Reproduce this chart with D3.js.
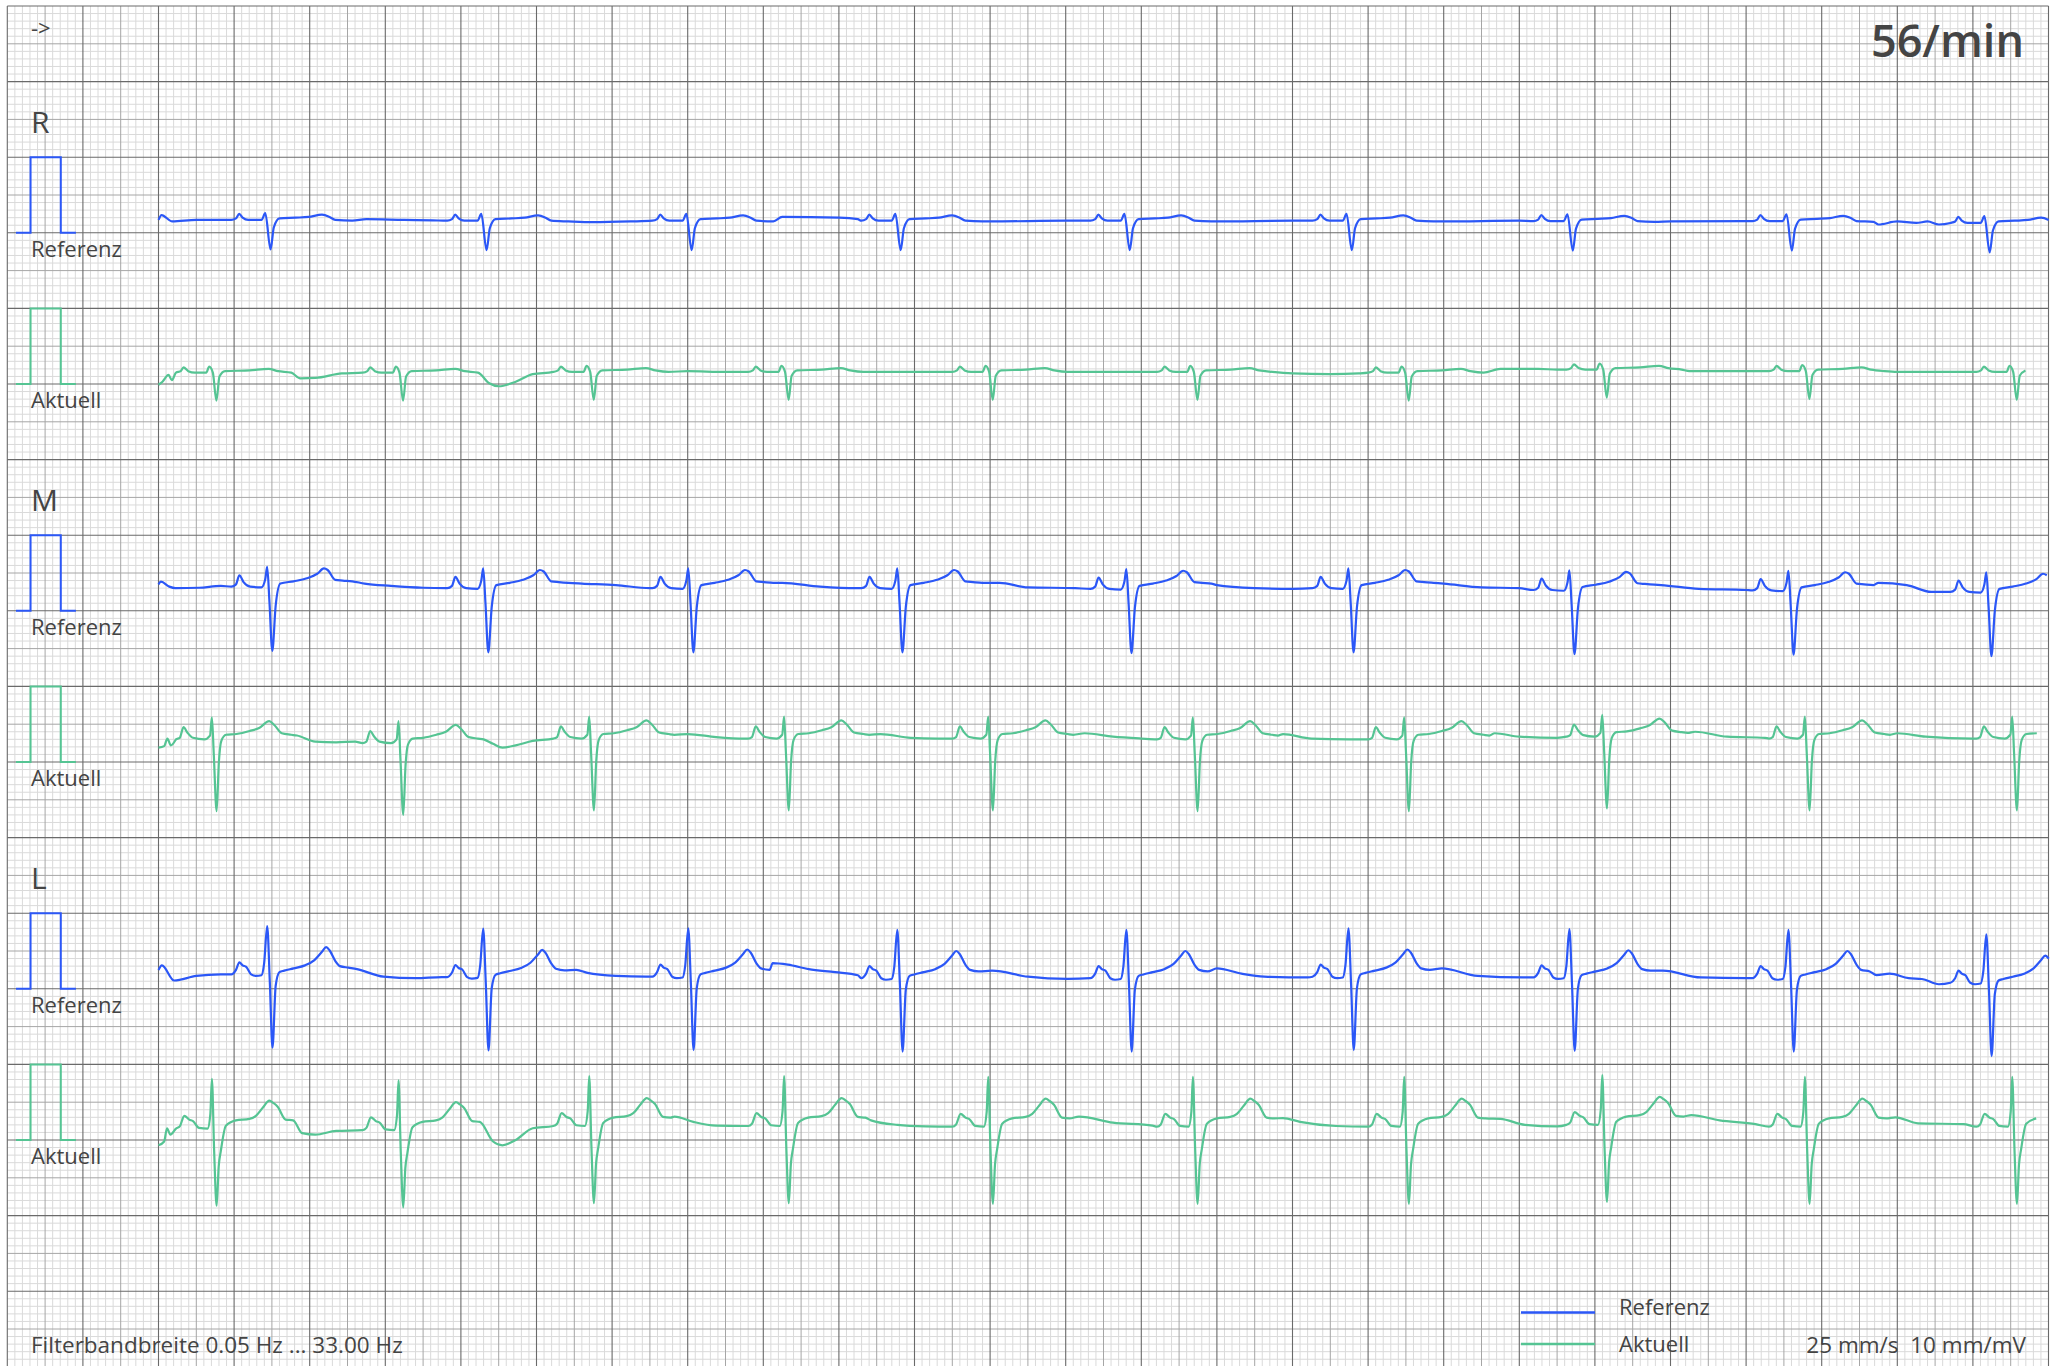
<!DOCTYPE html>
<html><head><meta charset="utf-8">
<script src="https://cdn.jsdelivr.net/npm/d3@7"></script>
<style>
html,body{margin:0;padding:0;background:#fff;}
svg{display:block;}
text{font-family:"Open Sans","Noto Sans",sans-serif;fill:#444;}
</style></head>
<body>
<svg id="c" width="2062" height="1366"></svg>
<script>
// ---------- data (times in s, amplitudes in mV) ----------
const refBeats = [0.575, 1.718, 2.803, 3.909, 5.121, 6.296, 7.465, 8.624, 9.671];
const aktBeats = [0.2825, 1.270, 2.279, 3.310, 4.390, 5.473, 6.591, 7.639, 8.711, 9.808];

const tmplRRef = [[-0.19,0],[-0.165,0.02],[-0.148,0.08],[-0.13,0.03],[-0.10,0],[-0.03,0],[-0.01,0.09],[0.018,-0.39],[0.035,-0.1],[0.065,0.02],[0.15,0.03],[0.22,0.04],[0.29,0.07],[0.33,0.04],[0.36,0.0],[0.45,-0.01]];
const isoRRef = [0.17,0.16,0.16,0.16,0.16,0.16,0.155,0.155,0.13];
const gapRRef = [[0,0.17],[0.016,0.235],[0.073,0.15],[0.2,0.17],[1.1,0.18],[1.3,0.17],[1.45,0.165],[2.3,0.14],[2.5,0.15],[3.3,0.21],[3.6,0.2],[3.7,0.18],[4.4,0.15],[4.8,0.16],[5.6,0.15],[6.0,0.16],[6.8,0.15],[7.2,0.16],[8.0,0.15],[8.4,0.155],[9.1,0.11],[9.2,0.15],[9.3,0.13],[9.36,0.15],[9.42,0.11]];

const tmplRAkt = [[-0.19,0],[-0.165,0.02],[-0.15,0.07],[-0.125,0.02],[-0.09,0],[-0.03,0],[-0.014,0.08],[0.005,0.0],[0.024,-0.37],[0.04,-0.05],[0.07,0.02],[0.2,0.03],[0.3,0.05],[0.35,0.02],[0.42,0]];
const isoRAkt = [0.15,0.15,0.16,0.16,0.16,0.16,0.15,0.19,0.17,0.16];
const gapRAkt = [[0,-0.01],[0.021,0.03],[0.053,0.12],[0.071,0.05],[0.75,0.075],[0.83,0.08],[0.97,0.14],[1.75,0.01],[1.80,-0.03],[1.89,0.03],[1.98,0.13],[2.8,0.17],[3.0,0.16],[3.9,0.16],[4.1,0.16],[5.0,0.16],[5.2,0.16],[6.0,0.14],[6.2,0.13],[6.35,0.14],[7.1,0.2],[7.3,0.2],[7.4,0.19],[8.1,0.17],[8.45,0.17],[9.2,0.16],[9.5,0.16]];

const tmplMRef = [[-0.19,0],[-0.165,0.03],[-0.147,0.15],[-0.125,0.06],[-0.09,0],[-0.03,-0.01],[-0.01,0.1],[0,0.26],[0.012,-0.2],[0.027,-0.85],[0.045,-0.25],[0.07,0.04],[0.14,0.07],[0.21,0.11],[0.265,0.17],[0.30,0.24],[0.32,0.22],[0.36,0.09],[0.40,0.08],[0.45,0.07]];
const isoMRef = [0.32,0.30,0.30,0.30,0.29,0.30,0.275,0.27,0.25];
const gapMRef = [[0,0.35],[0.013,0.385],[0.057,0.32],[0.09,0.30],[0.215,0.305],[0.33,0.33],[1.09,0.36],[1.23,0.33],[1.40,0.305],[1.52,0.30],[2.24,0.36],[2.42,0.34],[2.6,0.30],[3.3,0.37],[3.5,0.32],[3.7,0.30],[4.45,0.37],[4.6,0.31],[4.85,0.30],[5.6,0.34],[5.8,0.30],[6.0,0.29],[6.8,0.36],[7.0,0.31],[7.2,0.30],[7.95,0.34],[8.15,0.29],[8.4,0.275],[9.1,0.37],[9.25,0.34],[9.38,0.25]];

const tmplMAkt = [[-0.19,0],[-0.17,0.02],[-0.15,0.16],[-0.13,0.09],[-0.10,0.02],[-0.04,0],[-0.01,0.05],[0,0.29],[0.01,-0.2],[0.025,-0.95],[0.037,-0.3],[0.05,-0.02],[0.075,0.06],[0.13,0.07],[0.2,0.11],[0.25,0.15],[0.303,0.24],[0.33,0.19],[0.37,0.08],[0.42,0.06],[0.45,0.05]];
const isoMAkt = [0.30,0.25,0.31,0.31,0.31,0.30,0.30,0.335,0.31,0.31];
const gapMAkt = [[0,0.19],[0.03,0.21],[0.047,0.31],[0.065,0.22],[0.09,0.29],[0.83,0.27],[0.94,0.26],[1.04,0.27],[1.77,0.24],[1.82,0.19],[1.89,0.22],[1.98,0.28],[2.8,0.37],[2.95,0.33],[3.1,0.31],[3.82,0.37],[3.98,0.32],[4.12,0.31],[4.9,0.38],[5.05,0.335],[5.2,0.31],[5.95,0.37],[6.1,0.31],[6.3,0.30],[7.07,0.38],[7.2,0.335],[7.4,0.32],[8.13,0.40],[8.3,0.335],[8.5,0.32],[9.2,0.38],[9.35,0.335],[9.6,0.31]];

const tmplLRef = [[-0.19,0],[-0.165,0.06],[-0.147,0.16],[-0.13,0.12],[-0.111,0.10],[-0.085,0.0],[-0.06,-0.02],[-0.03,-0.01],[-0.016,0.15],[0,0.64],[0.014,-0.1],[0.028,-0.97],[0.045,-0.15],[0.065,0.03],[0.09,0.05],[0.14,0.08],[0.2,0.12],[0.25,0.19],[0.29,0.30],[0.312,0.36],[0.33,0.32],[0.36,0.18],[0.385,0.11],[0.43,0.09]];
const isoLRef = [0.19,0.155,0.16,0.14,0.14,0.16,0.15,0.14,0.08];
const gapLRef = [[0,0.25],[0.018,0.31],[0.083,0.11],[0.2,0.17],[0.33,0.19],[1.05,0.26],[1.19,0.16],[1.36,0.14],[1.50,0.155],[2.21,0.25],[2.27,0.21],[2.42,0.17],[2.58,0.16],[3.25,0.34],[3.33,0.32],[3.44,0.26],[3.58,0.22],[3.70,0.18],[4.41,0.24],[4.60,0.16],[4.81,0.13],[5.60,0.27],[5.73,0.20],[5.85,0.16],[6.08,0.15],[6.79,0.27],[6.98,0.17],[7.22,0.15],[7.96,0.24],[8.16,0.15],[8.40,0.14],[9.09,0.18],[9.16,0.2],[9.26,0.14],[9.33,0.13],[9.42,0.06]];

const tmplLAkt = [[-0.19,0],[-0.17,0.03],[-0.146,0.17],[-0.12,0.12],[-0.10,0.10],[-0.068,0.01],[-0.023,0],[-0.008,0.2],[0,0.66],[0.012,-0.3],[0.025,-1.02],[0.036,-0.5],[0.047,-0.3],[0.074,0.04],[0.127,0.11],[0.198,0.13],[0.233,0.17],[0.27,0.28],[0.304,0.37],[0.325,0.34],[0.348,0.29],[0.39,0.12],[0.43,0.11]];
const isoLAkt = [0.15,0.13,0.185,0.185,0.176,0.176,0.176,0.2,0.176,0.176];
const gapLAkt = [[0,-0.07],[0.03,-0.02],[0.045,0.155],[0.063,0.07],[0.76,0.09],[0.83,0.07],[0.94,0.12],[1.77,-0.02],[1.82,-0.07],[1.89,0],[1.98,0.155],[2.73,0.31],[2.83,0.24],[2.95,0.19],[3.1,0.185],[3.77,0.26],[3.91,0.2],[4.06,0.18],[4.87,0.31],[5.05,0.23],[5.26,0.19],[5.95,0.29],[6.04,0.24],[6.23,0.185],[7.1,0.28],[7.23,0.2],[7.4,0.18],[8.11,0.33],[8.26,0.26],[8.45,0.21],[9.19,0.3],[9.31,0.22],[9.55,0.21]];

const calPulse = [[0,0],[0.077,0],[0.077,1],[0.237,1],[0.237,0],[0.317,0]];
const leadNames = ["R","M","L"];
const seriesNames = ["Referenz","Aktuell"];
const rateLabel = "56/min";
const filterLabel = "Filterbandbreite 0.05 Hz ... 33.00 Hz";
const scaleLabel = "25 mm/s  10 mm/mV";
const arrowLabel = "->";

// ---------- layout ----------
const W = 2062, H = 1366;
const MM = 7.56, gx0 = 7.3, gy0 = 6;
const colors = {Referenz:"#2b57f7", Aktuell:"#55c493"};
const svg = d3.select("#c");

// grid
const gridX = d3.scaleLinear().domain([0,270]).range([gx0, gx0+270*MM]);
const gridY = d3.scaleLinear().domain([0,180]).range([gy0, gy0+180*MM]);
const gGrid = svg.append("g");
const lvl = i => i%10===0 ? 2 : (i%5===0 ? 1 : 0);
const gstyle = [{c:"#dadada",w:1},{c:"#a6a6a6",w:1},{c:"#6a6a6a",w:1.1}];
[0,1,2].forEach(L => {
  gGrid.selectAll(null).data(d3.range(0,271).filter(i=>lvl(i)===L)).join("line")
    .attr("x1",d=>gridX(d)).attr("x2",d=>gridX(d)).attr("y1",gy0).attr("y2",H)
    .attr("stroke",gstyle[L].c).attr("stroke-width",gstyle[L].w);
  gGrid.selectAll(null).data(d3.range(0,181).filter(i=>lvl(i)===L)).join("line")
    .attr("y1",d=>gridY(d)).attr("y2",d=>gridY(d)).attr("x1",gx0).attr("x2",gridX(270))
    .attr("stroke",gstyle[L].c).attr("stroke-width",gstyle[L].w);
});

// traces
const tx = d3.scaleLinear().domain([0,10]).range([gridX(20), gridX(270)]);
const calX = d3.scaleLinear().domain([0,1]).range([16, 16+25*MM]);
function build(beats, iso, tmpl, gaps){
  const pts = [];
  beats.forEach((b,i)=> tmpl.forEach(([dt,v]) => pts.push([b+dt, v+iso[i]])));
  gaps.forEach(p=>pts.push(p));
  return pts.filter(p=>p[0]>=0 && p[0]<=10.005).sort((a,b)=>a[0]-b[0]);
}
const traces = [
  {lead:0, s:"Referenz", row:30, data:build(refBeats,isoRRef,tmplRRef,gapRRef)},
  {lead:0, s:"Aktuell",  row:50, data:build(aktBeats,isoRAkt,tmplRAkt,gapRAkt)},
  {lead:1, s:"Referenz", row:80, data:build(refBeats,isoMRef,tmplMRef,gapMRef)},
  {lead:1, s:"Aktuell",  row:100, data:build(aktBeats,isoMAkt,tmplMAkt,gapMAkt)},
  {lead:2, s:"Referenz", row:130, data:build(refBeats,isoLRef,tmplLRef,gapLRef)},
  {lead:2, s:"Aktuell",  row:150, data:build(aktBeats,isoLAkt,tmplLAkt,gapLAkt)}
];
traces.forEach(t => {
  const base = gridY(t.row);
  const y = d3.scaleLinear().domain([0,1]).range([base, base-10*MM]);
  const line = d3.line().x(d=>tx(d[0])).y(d=>y(d[1])).curve(d3.curveMonotoneX);
  const cal = d3.line().x(d=>calX(d[0])).y(d=>y(d[1]));
  svg.append("path").attr("d", cal(calPulse)).attr("fill","none")
    .attr("stroke", colors[t.s]).attr("stroke-width",2);
  svg.append("path").attr("d", line(t.data)).attr("fill","none")
    .attr("stroke", colors[t.s]).attr("stroke-width",2.2).attr("stroke-linejoin","round");
  svg.append("text").attr("x",31).attr("y",base+24).attr("font-size",22).text(t.s);
  if (t.s==="Referenz")
    svg.append("text").attr("x",31).attr("y",base-100).attr("font-size",30).text(leadNames[t.lead]);
});

// header / footer texts
svg.append("text").attr("x",31).attr("y",36).attr("font-size",22).text(arrowLabel);
svg.append("text").attr("x",2024).attr("y",57).attr("text-anchor","end")
  .attr("font-size",45).attr("font-weight",600).attr("fill","#3c3c3c").text(rateLabel);
svg.append("text").attr("x",31).attr("y",1353).attr("font-size",22.5).text(filterLabel);
svg.append("text").attr("x",2026).attr("y",1353).attr("text-anchor","end")
  .attr("font-size",22.5).style("white-space","pre").text(scaleLabel);

// legend
const legY = [1312.5, 1344];
const legBase = [1315, 1352];
seriesNames.forEach((s,i) => {
  svg.append("line").attr("x1",1521).attr("x2",1595).attr("y1",legY[i]).attr("y2",legY[i])
    .attr("stroke",colors[s]).attr("stroke-width",2.5);
  svg.append("text").attr("x",1619).attr("y",legBase[i]).attr("font-size",22).text(s);
});
</script>
</body></html>
